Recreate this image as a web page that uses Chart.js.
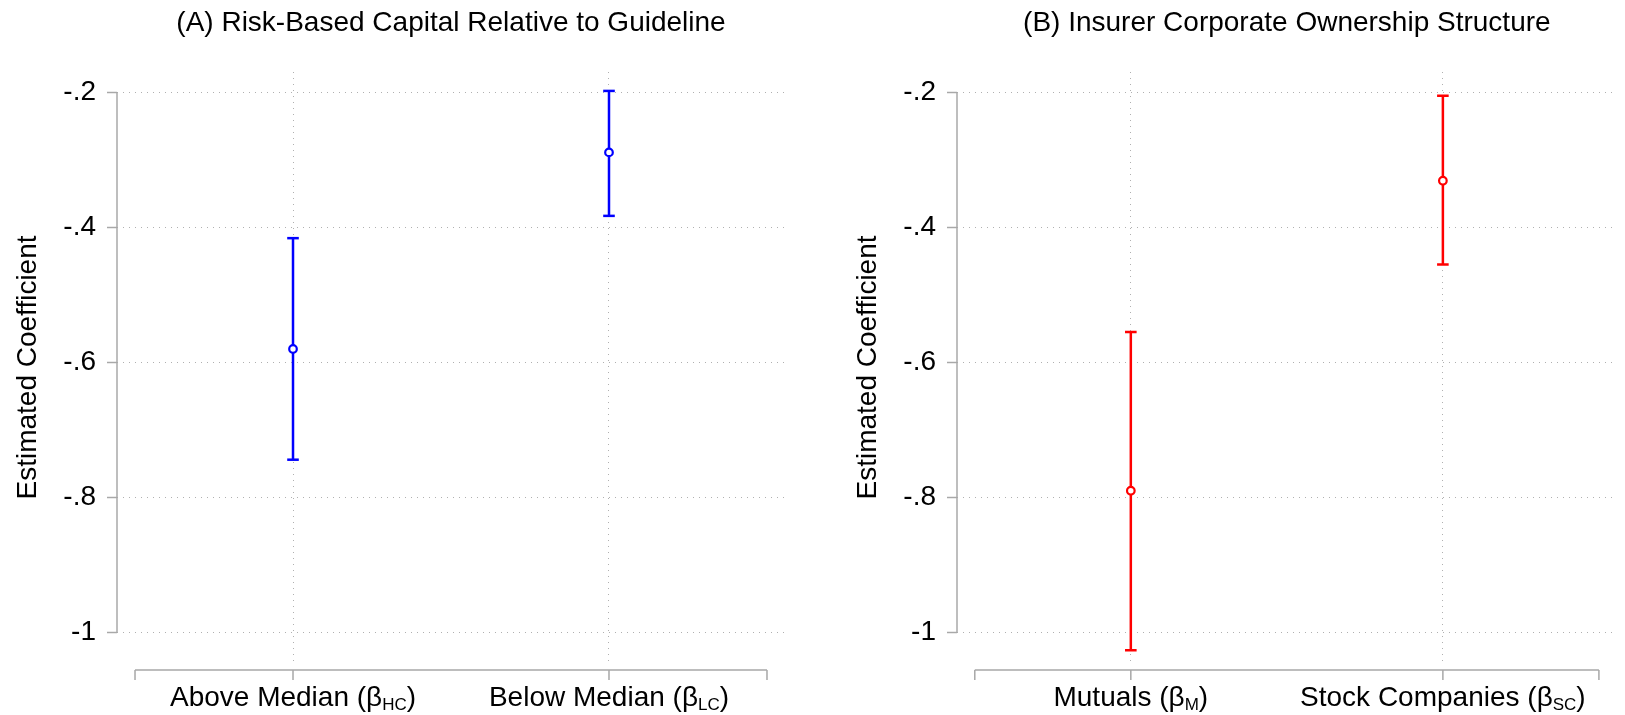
<!DOCTYPE html>
<html>
<head>
<meta charset="utf-8">
<script src="https://cdn.jsdelivr.net/npm/chart.js@4.4.1/dist/chart.umd.min.js"></script>
<style>
  html, body { margin: 0; padding: 0; background: #fff; }
  #wrap { position: relative; width: 1625px; height: 715px; }
  canvas { position: absolute; top: 0; }
</style>
</head>
<body>
<div id="wrap">
  <canvas id="panelA" width="812" height="715" style="left:0"></canvas>
  <canvas id="panelB" width="813" height="715" style="left:812px"></canvas>
</div>
<script>
// panel A
const titleA = '(A) Risk-Based Capital Relative to Guideline';
const catsA = ['Above Median', 'Below Median'];
const subsA = ['HC', 'LC'];
const coefA = [-0.580, -0.289];
const lowA = [-0.744, -0.383];
const highA = [-0.416, -0.198];

// panel B
const titleB = '(B) Insurer Corporate Ownership Structure';
const catsB = ['Mutuals', 'Stock Companies'];
const subsB = ['M', 'SC'];
const coefB = [-0.790, -0.331];
const lowB = [-1.026, -0.455];
const highB = [-0.555, -0.205];

// shared axes
const xPositions = [1, 2];
const xAxisTicks = [0.5, 1, 2, 2.5];
const yTicks = [-0.2, -0.4, -0.6, -0.8, -1];
const yTickLabels = ['-.2', '-.4', '-.6', '-.8', '-1'];
const yTitle = 'Estimated Coefficient';

const family = "'Liberation Sans', Arial, sans-serif";
const gridColor = '#b0b0b0';
const axisColor = '#a8a8a8';

// stata-style axes: y line only over the tick range, x line offset below the plot
const stataAxes = {
    id: 'stataAxes',
    afterDraw(chart, args, opts) {
        const ctx = chart.ctx;
        const xs = chart.scales.x;
        const ys = chart.scales.y;
        const area = chart.chartArea;
        ctx.save();
        ctx.strokeStyle = axisColor;
        ctx.lineWidth = 1.5;

        ctx.beginPath();
        ctx.moveTo(area.left, ys.getPixelForValue(yTicks[0]));
        ctx.lineTo(area.left, ys.getPixelForValue(yTicks[yTicks.length - 1]));
        ctx.stroke();

        const axY = area.bottom + 7;
        ctx.beginPath();
        ctx.moveTo(xs.getPixelForValue(xAxisTicks[0]), axY);
        ctx.lineTo(xs.getPixelForValue(xAxisTicks[xAxisTicks.length - 1]), axY);
        xAxisTicks.forEach(v => {
            const px = xs.getPixelForValue(v);
            ctx.moveTo(px, axY);
            ctx.lineTo(px, axY + 10);
        });
        ctx.stroke();

        // category labels with subscripts
        ctx.fillStyle = '#000';
        ctx.textBaseline = 'alphabetic';
        ctx.textAlign = 'left';
        const mainFont = '28px ' + family;
        const subFont = '17px ' + family;
        xPositions.forEach((v, i) => {
            const head = opts.cats[i] + ' (\u03B2';
            const sub = opts.subs[i];
            const tail = ')';
            ctx.font = mainFont;
            const wHead = ctx.measureText(head).width;
            const wTail = ctx.measureText(tail).width;
            ctx.font = subFont;
            const wSub = ctx.measureText(sub).width;
            let px = xs.getPixelForValue(v) - (wHead + wSub + wTail) / 2;
            const base = axY + 36;
            ctx.font = mainFont;
            ctx.fillText(head, px, base);
            px += wHead;
            ctx.font = subFont;
            ctx.fillText(sub, px, base + 4);
            px += wSub;
            ctx.font = mainFont;
            ctx.fillText(tail, px, base);
        });
        ctx.restore();
    }
};

function makePanel(canvasId, title, cats, subs, coef, low, high, color, yWidth, yTitlePad, padRight) {
    const ranges = xPositions.map((xv, i) => ({
        data: [{x: xv, y: low[i]}, {x: xv, y: high[i]}],
        showLine: true,
        borderColor: color,
        borderWidth: 2.5,
        pointStyle: 'line',
        pointRadius: 5.8,
        pointHoverRadius: 5.8,
        pointBorderWidth: 2.5,
        pointBorderColor: color,
        order: 2
    }));
    const points = {
        data: xPositions.map((xv, i) => ({x: xv, y: coef[i]})),
        pointStyle: 'circle',
        pointRadius: 3.8,
        pointHoverRadius: 3.8,
        pointBorderWidth: 2.2,
        borderColor: color,
        backgroundColor: '#fff',
        order: 1
    };

    return new Chart(document.getElementById(canvasId), {
        type: 'scatter',
        data: { datasets: [...ranges, points] },
        plugins: [stataAxes],
        options: {
            responsive: false,
            animation: false,
            layout: { padding: { left: 0, right: padRight, top: 0, bottom: 0 } },
            scales: {
                x: {
                    type: 'linear',
                    min: 0.443,
                    max: 2.557,
                    afterBuildTicks: s => { s.ticks = xPositions.map(v => ({value: v})); },
                    ticks: { display: false },
                    grid: { color: gridColor, lineWidth: 1, drawTicks: false },
                    border: { display: false, dash: [1, 5] },
                    afterFit: s => { s.height = 52; }
                },
                y: {
                    type: 'linear',
                    min: -1.045,
                    max: -0.17,
                    afterBuildTicks: s => { s.ticks = yTicks.map(v => ({value: v})); },
                    ticks: {
                        callback: (v, i) => yTickLabels[i],
                        color: '#000',
                        padding: 11,
                        font: { family: family, size: 28 }
                    },
                    grid: {
                        color: gridColor,
                        lineWidth: 1,
                        tickColor: axisColor,
                        tickLength: 10,
                        tickWidth: 1.5
                    },
                    border: { display: false, dash: [1, 5] },
                    title: {
                        display: true,
                        text: yTitle,
                        color: '#000',
                        font: { family: family, size: 28 },
                        padding: { top: yTitlePad, bottom: 0 }
                    },
                    afterFit: s => { s.width = yWidth; }
                }
            },
            plugins: {
                legend: { display: false },
                tooltip: { enabled: false },
                title: {
                    display: true,
                    text: title,
                    color: '#000',
                    fullSize: false,
                    font: { family: family, size: 28, weight: 'normal' },
                    padding: { top: 6.7, bottom: 31.7 }
                },
                stataAxes: { cats: cats, subs: subs }
            }
        }
    });
}

makePanel('panelA', titleA, catsA, subsA, coefA, lowA, highA, '#0000ff', 117, 11.2, 27);
makePanel('panelB', titleB, catsB, subsB, coefB, lowB, highB, '#ff0000', 145, 39.2, 0);
</script>
</body>
</html>
